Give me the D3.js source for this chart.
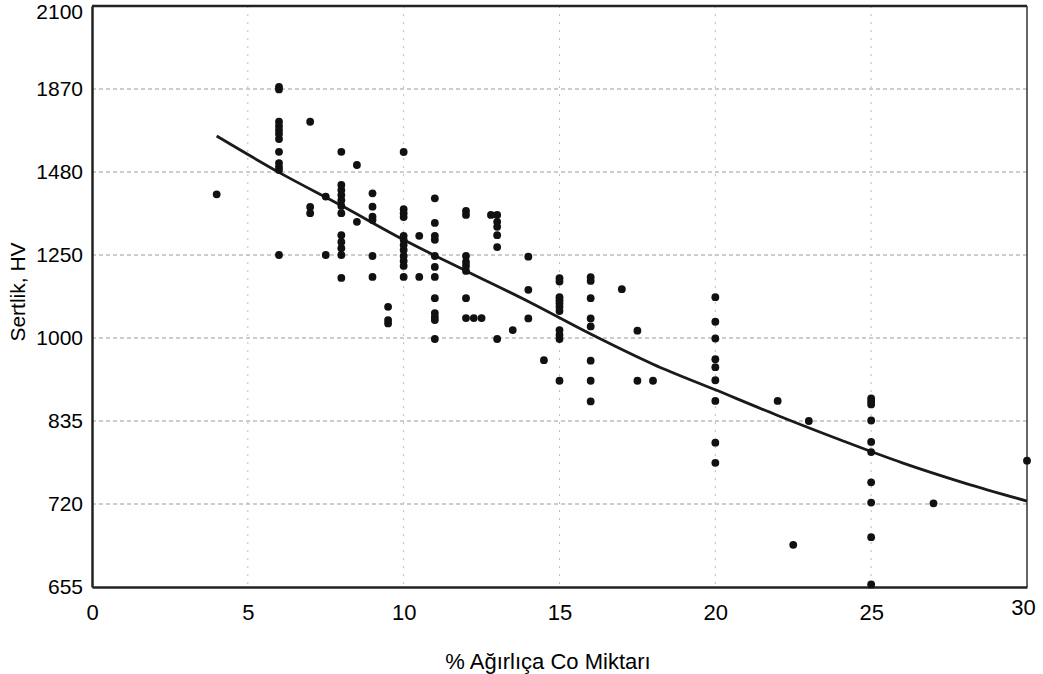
<!DOCTYPE html>
<html>
<head>
<meta charset="utf-8">
<script src="https://cdn.jsdelivr.net/npm/d3@7/dist/d3.min.js"></script>
<style>
  html, body { margin: 0; padding: 0; background: #fff; }
  svg { display: block; }
  text { font-family: "Liberation Sans", Arial, sans-serif; fill: #000; }
</style>
</head>
<body>
<svg id="chart" width="1043" height="674"></svg>
<script>
// ---- Data ----
const xTicks = [0, 5, 10, 15, 20, 25, 30];
const yTicks = [655, 720, 835, 1000, 1250, 1480, 1870, 2100];

// Scatter data: Co content (% weight) and hardness (HV)
const coContent = [
  4,
  6, 6, 6, 6, 6, 6, 6, 6, 6, 6, 6, 6,
  7, 7, 7,
  7.5, 7.5,
  8, 8, 8, 8, 8, 8, 8, 8, 8, 8, 8, 8,
  8.5, 8.5,
  9, 9, 9, 9, 9, 9,
  9.5, 9.5, 9.5,
  10, 10, 10, 10, 10, 10, 10, 10, 10, 10, 10, 10,
  10.5, 10.5,
  11, 11, 11, 11, 11, 11, 11, 11, 11, 11, 11, 11,
  12, 12, 12, 12, 12, 12, 12, 12,
  12.25, 12.5, 12.8,
  13, 13, 13, 13, 13, 13,
  13.5,
  14, 14, 14,
  14.5,
  15, 15, 15, 15, 15, 15, 15, 15, 15, 15, 15,
  16, 16, 16, 16, 16, 16, 16, 16,
  17, 17.5, 17.5, 18,
  20, 20, 20, 20, 20, 20, 20, 20, 20,
  22, 22.5, 23,
  25, 25, 25, 25, 25, 25, 25, 25, 25, 25,
  27, 30
];
const hardness = [
  1418,
  1876, 1868, 1716, 1696, 1677, 1659, 1635, 1575, 1522, 1503, 1489, 1250,
  1716, 1383, 1366,
  1412, 1250,
  1575, 1444, 1430, 1416, 1402, 1386, 1366, 1305, 1286, 1269, 1250, 1181,
  1513, 1342,
  1421, 1384, 1356, 1347, 1247, 1184,
  1094, 1054, 1044,
  1574, 1377, 1366, 1355, 1303, 1292, 1278, 1264, 1247, 1232, 1217, 1184,
  1303, 1184,
  1407, 1339, 1303, 1292, 1247, 1214, 1184, 1120, 1075, 1063, 1054, 998,
  1372, 1361, 1247, 1229, 1217, 1202, 1120, 1060,
  1060, 1060, 1361,
  1361, 1342, 1328, 1305, 1272, 998,
  1024,
  1245, 1145, 1059,
  956,
  1180, 1170, 1123, 1114, 1104, 1093, 1081, 1024, 1009, 998, 915,
  1183, 1172, 1120, 1059, 1035, 955, 915, 874,
  1147, 1022, 915, 915,
  1123, 1049, 999, 958, 942, 916, 875, 805, 777,
  875, 688, 835,
  880, 874, 868, 836, 806, 792, 750, 722, 694, 657,
  721, 780
];

// Fitted trend curve
const fitX = [4, 6, 8, 10, 12, 14, 16, 18, 20, 22, 24, 26, 28, 30];
const fitY = [1649, 1479, 1387, 1292, 1202, 1110, 1012, 948, 897, 846, 809, 777, 749, 724];

// ---- Layout ----
const plotLeft = 92, plotRight = 1027, plotTop = 6, plotBottom = 587;
const svg = d3.select("#chart");

const x = d3.scaleLinear().domain([0, 30]).range([plotLeft, plotRight]);
// Tick values are evenly spaced on the original axis
const step = (plotBottom - plotTop) / (yTicks.length - 1);
const y = d3.scaleLinear()
  .domain(yTicks)
  .range(yTicks.map((d, i) => plotBottom - i * step));

// Gridlines
const grid = svg.append("g");
grid.selectAll("line.h")
  .data(yTicks.filter(d => d !== 655 && d !== 2100))
  .enter().append("line")
  .attr("x1", plotLeft).attr("x2", plotRight)
  .attr("y1", d => y(d)).attr("y2", d => y(d))
  .attr("stroke", "#9a9a9a").attr("stroke-width", 1)
  .attr("stroke-dasharray", "4,3");
grid.selectAll("line.v")
  .data(xTicks.filter(d => d !== 0 && d !== 30))
  .enter().append("line")
  .attr("y1", plotTop).attr("y2", plotBottom)
  .attr("x1", d => x(d)).attr("x2", d => x(d))
  .attr("stroke", "#bdbdbd").attr("stroke-width", 1)
  .attr("stroke-dasharray", "2,6");

// Frame
svg.append("line").attr("x1", plotLeft).attr("x2", plotRight).attr("y1", plotTop).attr("y2", plotTop)
  .attr("stroke", "#222").attr("stroke-width", 2.5);
svg.append("line").attr("x1", plotRight).attr("x2", plotRight).attr("y1", plotTop).attr("y2", plotBottom)
  .attr("stroke", "#333").attr("stroke-width", 1.5);

// Axes
const xAxis = svg.append("g")
  .attr("transform", `translate(0,${plotBottom})`)
  .call(d3.axisBottom(x).tickValues(xTicks).tickSize(0).tickPadding(17));
xAxis.select(".domain").attr("stroke", "#222").attr("stroke-width", 2.5);
xAxis.selectAll("text").style("font-size", "22px").attr("fill", "#000")
  .attr("font-family", "Liberation Sans, Arial, sans-serif");
xAxis.selectAll(".tick").filter(d => d === 30).select("text")
  .attr("transform", "translate(-4,-5)");

const yAxis = svg.append("g")
  .attr("transform", `translate(${plotLeft},0)`)
  .call(d3.axisLeft(y).tickValues(yTicks).tickSize(0).tickPadding(9).tickFormat(d3.format("d")));
yAxis.select(".domain").attr("stroke", "#222").attr("stroke-width", 2.5);
yAxis.selectAll("text").style("font-size", "21px").attr("fill", "#000")
  .attr("font-family", "Liberation Sans, Arial, sans-serif");
yAxis.selectAll(".tick").filter(d => d === 2100).select("text")
  .attr("transform", "translate(0,6)");

// Trend curve
const line = d3.line()
  .x((d, i) => x(fitX[i]))
  .y((d, i) => y(fitY[i]))
  .curve(d3.curveMonotoneX);
svg.append("path")
  .datum(fitX)
  .attr("d", line)
  .attr("fill", "none")
  .attr("stroke", "#1a1a1a")
  .attr("stroke-width", 2.8);

// Scatter points
svg.append("g").selectAll("circle")
  .data(coContent)
  .enter().append("circle")
  .attr("cx", (d, i) => x(coContent[i]))
  .attr("cy", (d, i) => y(hardness[i]))
  .attr("r", 3.9)
  .attr("fill", "#111");

// Axis titles
svg.append("text")
  .attr("x", 548).attr("y", 669)
  .attr("text-anchor", "middle")
  .style("font-size", "22px")
  .text("% Ağırlıça Co Miktarı");

svg.append("text")
  .attr("transform", "translate(25,292) rotate(-90)")
  .attr("text-anchor", "middle")
  .style("font-size", "21px")
  .text("Sertlik, HV");
</script>
</body>
</html>
